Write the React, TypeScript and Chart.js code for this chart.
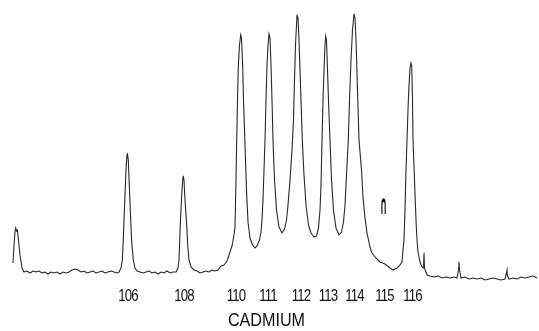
import React, { useEffect, useRef } from "react";
import { Chart, registerables } from "chart.js";

Chart.register(...registerables);

// Trace of the mass-spectrometer record: [scan position (chart units), intensity (arb. units)]
const leftPeak: [number, number][] = [
  [2.6, 4.5], [2.8, 13.5], [3.0, 20], [3.14, 22], [3.3, 20.5], [3.46, 21], [3.7, 16], [4.0, 8.5], [4.4, 2], [4.8, 0],
];
const baselineLeft: [number, number][] = [
  [5.4, 0.5], [6.0, -0.5], [6.6, 0.5], [7.2, 0], [7.8, 0.5], [8.4, -0.5], [9.0, 0], [9.6, -1], [10.2, 0], [10.8, -0.5],
  [11.4, 0], [12.0, -1], [12.6, 0], [13.2, -0.5], [13.8, 0], [14.4, 1], [15.0, 1.5], [15.6, 1], [16.2, 0], [16.8, 0.5],
  [17.4, -0.5], [18.0, 0], [18.6, 0.5], [19.2, -0.5], [19.8, 0], [20.4, 0.5], [21.0, -0.5], [21.6, 0], [22.2, 0.5],
  [22.8, 0], [23.4, -0.5], [23.8, 0],
];
const peak106: [number, number][] = [
  [24.2, 2], [24.46, 6], [24.66, 16], [24.8, 26], [25.0, 38.5], [25.2, 51], [25.4, 58.5], [25.5, 59], [25.66, 56],
  [25.86, 43.5], [26.14, 26], [26.34, 15], [26.66, 6], [27.0, 2], [27.4, 0.5],
];
const baselineMid: [number, number][] = [
  [28.0, 0], [28.6, -0.5], [29.2, 0], [29.8, 0.5], [30.4, -0.5], [31.0, 0], [31.6, -1], [32.2, 0], [32.8, -0.5],
  [33.4, 0.5], [34.0, -0.5], [34.6, 0], [35.2, 0],
];
const peak108: [number, number][] = [
  [35.6, 2], [35.8, 6], [36.0, 20], [36.14, 28.5], [36.34, 38.5], [36.54, 46], [36.66, 48], [36.8, 46], [37.0, 36],
  [37.2, 28.5], [37.34, 23.5], [37.54, 13.5], [37.8, 6], [38.2, 2.5], [38.8, 1], [39.4, 0.5], [40.0, -0.5], [40.6, 0],
  [41.2, 0.5], [41.8, 0], [42.4, 1], [43.0, 0.5], [43.6, 1], [44.2, 3], [44.8, 3.5], [45.4, 5.5], [46.0, 10], [46.4, 13],
  [46.8, 18.5], [47.0, 22.5],
];
const cluster110to114: [number, number][] = [
  [47.2, 46], [47.34, 66], [47.5, 86], [47.66, 102.5], [47.9, 113.5], [48.14, 118.5], [48.3, 117], [48.54, 102.5],
  [48.7, 86], [49.0, 63.5], [49.3, 41], [49.6, 25], [50.0, 17], [50.5, 13.5], [51.0, 12], [51.4, 13], [51.9, 16],
  [52.2, 20], [52.4, 26], [52.6, 36], [52.8, 51], [53.0, 66], [53.2, 86], [53.4, 103.5], [53.6, 113.5], [53.8, 119],
  [54.0, 117], [54.2, 103.5], [54.4, 86], [54.6, 66], [54.9, 46], [55.3, 31], [55.8, 22.5], [56.4, 19.5], [56.9, 21.5],
  [57.3, 26], [57.6, 33.5], [58.0, 46], [58.4, 61], [58.7, 76], [58.9, 96], [59.1, 113.5], [59.3, 123.5], [59.4, 128.5],
  [59.6, 127], [59.8, 116], [60.0, 101], [60.2, 86], [60.46, 66], [60.8, 48.5], [61.2, 33.5], [61.7, 23.5], [62.2, 19.5],
  [62.8, 17.5], [63.3, 18], [63.7, 22], [64.0, 31], [64.2, 43.5], [64.4, 66], [64.6, 86], [64.8, 101], [65.0, 113.5],
  [65.14, 118], [65.3, 116], [65.5, 101], [65.7, 86], [66.0, 66], [66.3, 46], [66.7, 31], [67.2, 22], [67.8, 18.5],
  [68.3, 20], [68.7, 25], [69.0, 33.5], [69.3, 48.5], [69.66, 66], [69.9, 86], [70.2, 106], [70.5, 121], [70.8, 129],
  [71.0, 127], [71.2, 116], [71.5, 91], [71.8, 66], [72.3, 51], [72.6, 37.5], [73.0, 27], [73.4, 19.5], [74.0, 12.5],
  [74.4, 9.5], [75.2, 7], [76.0, 5], [77.0, 4], [78.0, 2], [78.6, 1], [79.4, 2], [80.0, 3.5], [80.4, 5],
];
const peak116: [number, number][] = [
  [80.6, 11], [80.8, 16], [81.0, 31], [81.2, 51], [81.4, 66], [81.6, 81], [81.8, 93.5], [82.0, 102], [82.2, 104.5],
  [82.34, 103], [82.5, 86], [82.6, 66], [82.9, 46], [83.2, 26], [83.4, 16], [83.6, 10], [84.0, 5], [84.4, 2.5],
  [84.7, 2], [84.8, 9.5], [84.9, 2], [85.4, -1.5],
];
const baselineRight: [number, number][] = [
  [86.0, -2], [86.8, -2.5], [87.6, -2], [88.4, -3], [89.2, -2.5], [90.0, -3], [90.8, -2.5], [91.4, -3], [91.7, 1],
  [91.8, 5], [91.9, 1], [92.2, -3], [93.0, -2.5], [93.8, -3.5], [94.6, -3], [95.4, -3.5], [96.2, -3], [97.0, -4],
  [97.8, -3.5], [98.6, -3], [99.4, -3.5], [100.2, -4], [101.0, -3.5], [101.3, -0.5], [101.4, 1], [101.5, -2],
  [101.8, -3.5], [102.6, -3], [103.4, -3.5], [104.2, -2.5], [105.0, -3], [105.8, -2.5], [106.6, -2], [107.4, -3],
];

const massLabels = ["106", "108", "110", "111", "112", "113", "114", "115", "116"];
const massLabelScan = [25.6, 36.8, 47.2, 53.6, 60.2, 65.6, 70.9, 76.9, 82.5];
const massLabelLevel = -12.5;
const elementName = "CADMIUM";
const elementScan = 53.3;
const elementLevel = -24.5;
const markText = "∩";
const markScan = 76.7;
const markLevel = 32.5;

const scanMin = 0;
const scanMax = 107.8;
const intensityMin = -29.5;
const intensityMax = 136;

const trace = [
  ...leftPeak, ...baselineLeft, ...peak106, ...baselineMid, ...peak108,
  ...cluster110to114, ...peak116, ...baselineRight,
].map(([x, y]) => ({ x, y }));

const textPlugin = {
  id: "spectrumText",
  afterDraw(chart: any) {
    const { ctx, scales } = chart;
    const xs = scales.x;
    const ys = scales.y;
    ctx.save();
    ctx.fillStyle = "#111";
    ctx.textAlign = "center";
    ctx.textBaseline = "middle";
    ctx.font = '15px "Liberation Sans", Arial, sans-serif';
    try { (ctx as any).letterSpacing = "-1px"; } catch (e) {}
    massLabels.forEach((t, i) => {
      const x = xs.getPixelForValue(massLabelScan[i]);
      const y = ys.getPixelForValue(massLabelLevel);
      ctx.save();
      ctx.translate(x, y);
      ctx.scale(0.88, 1.05);
      ctx.fillText(t, 0, 0);
      ctx.restore();
    });
    try { (ctx as any).letterSpacing = "0px"; } catch (e) {}
    ctx.save();
    ctx.translate(xs.getPixelForValue(elementScan), ys.getPixelForValue(elementLevel));
    ctx.scale(0.85, 1);
    ctx.font = '19px "Liberation Sans", Arial, sans-serif';
    ctx.fillText(elementName, 0, 0);
    ctx.restore();
    const mx = xs.getPixelForValue(markScan);
    const my = ys.getPixelForValue(markLevel);
    ctx.translate(mx, my);
    ctx.scale(0.55, 1.7);
    ctx.font = 'bold 16px "DejaVu Sans", sans-serif';
    ctx.fillText(markText, 0, 0);
    ctx.restore();
  },
};

export default function App() {
  const ref = useRef<HTMLCanvasElement | null>(null);
  useEffect(() => {
    document.body.style.margin = "0";
    document.body.style.background = "#fff";
    if (!ref.current) return;
    const chart = new Chart(ref.current, {
      type: "line",
      data: {
        datasets: [
          {
            data: trace,
            borderColor: "#2a2a2a",
            borderWidth: 1.1,
            pointRadius: 0,
            tension: 0.001,
            fill: false,
          },
        ],
      },
      options: {
        animation: false,
        responsive: false,
        maintainAspectRatio: false,
        layout: { padding: 0 },
        plugins: { legend: { display: false }, tooltip: { enabled: false }, title: { display: false } },
        scales: {
          x: { type: "linear", min: scanMin, max: scanMax, display: false },
          y: { type: "linear", min: intensityMin, max: intensityMax, display: false },
        },
      },
      plugins: [textPlugin],
    });
    return () => chart.destroy();
  }, []);
  return (
    <div style={{ position: "fixed", left: 0, top: 0, width: 539, height: 331, background: "#fff" }}>
      <canvas ref={ref} width={539} height={331} />
    </div>
  );
}
